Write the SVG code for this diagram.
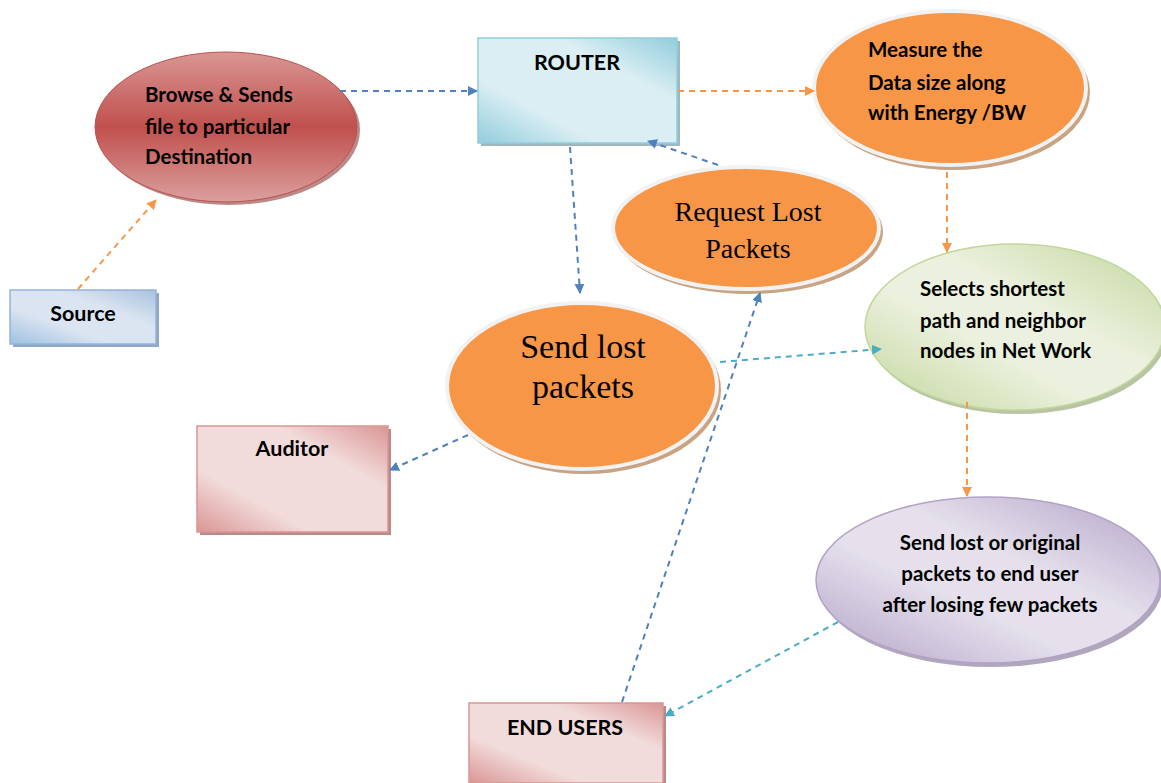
<svg xmlns="http://www.w3.org/2000/svg" width="1161" height="783" viewBox="0 0 1161 783">
<style>
.lbl{font-family:Lato,"Open Sans",sans-serif;font-weight:bold;font-size:20.5px;fill:#000}
.box{font-size:21.5px}
.ser{font-family:"Liberation Serif","Times New Roman",serif;fill:#000}
.blue{stroke:#4f81bd;stroke-width:2;stroke-dasharray:6 5;fill:none;marker-end:url(#ab)}
.orng{stroke:#f79646;stroke-width:2;stroke-dasharray:6 5;fill:none;marker-end:url(#ao)}
.cyan{stroke:#4bacc6;stroke-width:2;stroke-dasharray:6 5;fill:none;marker-end:url(#ac)}
.oell{fill:#f79646;stroke:#f2f2f2;stroke-width:4}
.osh{fill:#c9a382}
</style>
<defs>
<marker id="ab" markerWidth="10" markerHeight="10" refX="9" refY="5" orient="auto" markerUnits="userSpaceOnUse"><path d="M0,0 L10,5 L0,10 z" fill="#4f81bd"/></marker>
<marker id="ao" markerWidth="10" markerHeight="10" refX="9" refY="5" orient="auto" markerUnits="userSpaceOnUse"><path d="M0,0 L10,5 L0,10 z" fill="#f79646"/></marker>
<marker id="ac" markerWidth="10" markerHeight="10" refX="9" refY="5" orient="auto" markerUnits="userSpaceOnUse"><path d="M0,0 L10,5 L0,10 z" fill="#4bacc6"/></marker>
<linearGradient id="gRed" x1="0" y1="0" x2="0" y2="1"><stop offset="0" stop-color="#d99694"/><stop offset="0.5" stop-color="#c0504d"/><stop offset="1" stop-color="#dba09e"/></linearGradient>
<linearGradient id="gBlue" x1="0" y1="1" x2="1" y2="0"><stop offset="0" stop-color="#9ec0e0"/><stop offset="0.35" stop-color="#dbe5f1"/><stop offset="0.65" stop-color="#dbe5f1"/><stop offset="1" stop-color="#a8c2e0"/></linearGradient>
<linearGradient id="gRouter" x1="0" y1="1" x2="1" y2="0"><stop offset="0" stop-color="#92cddc"/><stop offset="0.3" stop-color="#daeef3"/><stop offset="0.7" stop-color="#daeef3"/><stop offset="1" stop-color="#92cddc"/></linearGradient>
<linearGradient id="gPink" x1="0" y1="1" x2="1" y2="0"><stop offset="0" stop-color="#d99694"/><stop offset="0.3" stop-color="#f2dcdb"/><stop offset="0.7" stop-color="#f2dcdb"/><stop offset="1" stop-color="#d99694"/></linearGradient>
<linearGradient id="gGreen" x1="0" y1="1" x2="1" y2="0"><stop offset="0" stop-color="#c3d69b"/><stop offset="0.4" stop-color="#ebf1de"/><stop offset="0.6" stop-color="#ebf1de"/><stop offset="1" stop-color="#c3d69b"/></linearGradient>
<linearGradient id="gPurple" x1="0" y1="1" x2="1" y2="0"><stop offset="0" stop-color="#b2a2c7"/><stop offset="0.4" stop-color="#e5e0ec"/><stop offset="0.6" stop-color="#e5e0ec"/><stop offset="1" stop-color="#b2a2c7"/></linearGradient>
</defs>
<rect width="1161" height="783" fill="#fff"/>

<g id="source">
<rect x="13" y="293" width="146" height="54" fill="#8fa8c8"/>
<rect x="10" y="290" width="146" height="54" fill="url(#gBlue)" stroke="#95b3d7" stroke-width="1.5"/>
<text class="lbl box" x="83" y="321" text-anchor="middle">Source</text>
</g>

<g id="browse">
<ellipse cx="229" cy="130" rx="131" ry="75" fill="#8c3a38" opacity="0.6"/>
<ellipse cx="226" cy="127" rx="131" ry="75" fill="url(#gRed)" stroke="#b9514e" stroke-width="1"/>
<text class="lbl" x="145" y="102">Browse &amp; Sends</text>
<text class="lbl" x="145" y="134">file to particular</text>
<text class="lbl" x="145" y="164">Destination</text>
</g>

<g id="router">
<rect x="481" y="41" width="199" height="105" fill="#9fb8be"/>
<rect x="478" y="38" width="199" height="105" fill="url(#gRouter)" stroke="#93cddd" stroke-width="1.5"/>
<text class="lbl box" x="577" y="70" text-anchor="middle">ROUTER</text>
</g>

<g id="measure">
<ellipse class="osh" cx="953" cy="92" rx="137" ry="78"/>
<ellipse class="oell" cx="950" cy="88" rx="136" ry="77"/>
<text class="lbl" x="868" y="57">Measure the</text>
<text class="lbl" x="868" y="90">Data size  along</text>
<text class="lbl" x="868" y="120">with Energy /BW</text>
</g>

<g id="request">
<ellipse class="osh" cx="749" cy="232" rx="134" ry="62"/>
<ellipse class="oell" cx="746" cy="228" rx="133" ry="61"/>
<text class="ser" x="748" y="221" font-size="28" text-anchor="middle">Request Lost</text>
<text class="ser" x="748" y="258" font-size="28" text-anchor="middle">Packets</text>
</g>

<g id="selects">
<ellipse cx="1018" cy="331" rx="150" ry="83" fill="#9aab7c" opacity="0.7"/>
<ellipse cx="1015" cy="327" rx="150" ry="83" fill="url(#gGreen)" stroke="#c3d69b" stroke-width="1.5"/>
<text class="lbl" x="920" y="296">Selects shortest</text>
<text class="lbl" x="920" y="328">path and neighbor</text>
<text class="lbl" x="920" y="358">nodes in  Net Work</text>
</g>

<g id="sendlost">
<ellipse class="osh" cx="585" cy="390" rx="136" ry="84"/>
<ellipse class="oell" cx="582" cy="386" rx="135" ry="83"/>
<text class="ser" x="583" y="358" font-size="34" text-anchor="middle">Send lost</text>
<text class="ser" x="583" y="398" font-size="34" text-anchor="middle">packets</text>
</g>

<g id="auditor">
<rect x="200" y="429" width="191" height="106" fill="#b88a89"/>
<rect x="197" y="426" width="191" height="106" fill="url(#gPink)" stroke="#d99694" stroke-width="1.5"/>
<text class="lbl box" x="292" y="456" text-anchor="middle">Auditor</text>
</g>

<g id="purple">
<ellipse cx="991" cy="584" rx="172" ry="83" fill="#8f82a0" opacity="0.7"/>
<ellipse cx="988" cy="580" rx="172" ry="83" fill="url(#gPurple)" stroke="#b2a2c7" stroke-width="1.5"/>
<text class="lbl" x="990" y="550" text-anchor="middle">Send lost or original</text>
<text class="lbl" x="990" y="581" text-anchor="middle">packets to end user</text>
<text class="lbl" x="990" y="612" text-anchor="middle">after losing few packets</text>
</g>

<g id="endusers">
<rect x="472" y="706" width="194" height="80" fill="#b88a89"/>
<rect x="469" y="703" width="194" height="80" fill="url(#gPink)" stroke="#d99694" stroke-width="1.5"/>
<text class="lbl box" x="565" y="735" text-anchor="middle">END USERS</text>
</g>

<g id="connectors">
<line class="orng" x1="78" y1="289" x2="156" y2="200"/>
<line class="blue" x1="340" y1="91" x2="477" y2="91"/>
<line class="orng" x1="678" y1="91" x2="814" y2="91"/>
<line class="orng" x1="947" y1="172" x2="947" y2="252"/>
<line class="blue" x1="570" y1="147" x2="580" y2="293"/>
<line class="blue" x1="718" y1="165" x2="648" y2="141"/>
<line class="blue" x1="468" y1="435" x2="390" y2="470"/>
<line class="cyan" x1="720" y1="362" x2="881" y2="349"/>
<line class="orng" x1="967" y1="402" x2="967" y2="496"/>
<line class="cyan" x1="838" y1="622" x2="665" y2="716"/>
<line class="blue" x1="622" y1="702" x2="760" y2="293"/>
</g>
</svg>
